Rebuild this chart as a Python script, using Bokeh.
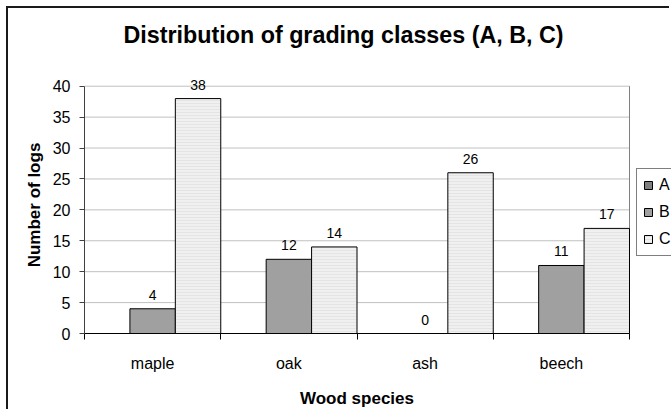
from bokeh.plotting import figure
from bokeh.models import ColumnDataSource, Range1d, FixedTicker, Legend, LegendItem, Title
from bokeh.core.properties import value
from bokeh.embed import file_html
from bokeh.resources import INLINE

# ---- data ----
species = ["maple", "oak", "ash", "beech"]
series_names = ["A", "B", "C"]
grade_a = [None, None, None, None]
grade_b = [4, 12, 0, 11]
grade_c = [38, 14, 26, 17]
y_ticks = [0, 5, 10, 15, 20, 25, 30, 35, 40]

# ---- layout / style ----
FONT = "Liberation Sans"
colors = ["#808080", "#a0a0a0", "#f0f0f0"]
W, H = 663, 403
BORDER_L, BORDER_T, BORDER_B = 76, 68, 78
PLOT_W_PX = 545.0          # pixel width of the category area
PLOT_H_PX = 247.3          # pixel height of the value axis 0..max
HEADROOM_PX = 9.7          # room above the top gridline for value labels
n_cat = len(species)
y_max = y_ticks[-1]
y_top = y_max + HEADROOM_PX * y_max / PLOT_H_PX
x_right = n_cat * (W - BORDER_L) / PLOT_W_PX   # frame runs to the canvas edge (legend is clipped there)

p = figure(width=W, height=H, output_backend="svg", toolbar_location=None, title=None,
           x_range=Range1d(0, x_right), y_range=Range1d(0, y_top),
           min_border_left=BORDER_L, min_border_right=0, min_border_top=BORDER_T,
           min_border_bottom=BORDER_B)
p.styles = {"margin-left": "6px", "margin-top": "6px",
            "border-left": "2px solid #1a1a1a", "border-top": "2px solid #1a1a1a"}

spacer = Title(text=" ", text_font=FONT, text_font_size="10px", standoff=16)
p.add_layout(spacer, "above")
main_title = Title(text="Distribution of grading classes (A, B, C)", text_font=FONT,
                   text_font_size="23.3px", text_font_style="bold", text_color="black",
                   align="left", offset=39, vertical_align="bottom", standoff=0)
p.add_layout(main_title, "above")

p.background_fill_color = "white"
p.border_fill_color = "white"
p.outline_line_color = None
p.xgrid.visible = False
p.ygrid.visible = False

# horizontal gridlines limited to the category area
grid_y = y_ticks[1:]
p.segment(x0=[0] * len(grid_y), y0=grid_y, x1=[n_cat] * len(grid_y), y1=grid_y,
          line_color="#c0c0c0", line_width=1)
# right border of the plot area
p.segment(x0=[n_cat], y0=[0], x1=[n_cat], y1=[y_max], line_color="#808080", line_width=1)

n = len(series_names)
bw = 1.0 / n
all_series = [grade_a, grade_b, grade_c]
renderers = []
for k, (name, vals) in enumerate(zip(series_names, all_series)):
    xs = [i + (k + 0.5) * bw for i in range(n_cat)]
    tops = [float("nan") if v is None else v for v in vals]
    src = ColumnDataSource(dict(x=xs, top=tops))
    kw = {}
    if k == 2:
        kw = dict(hatch_pattern="horizontal_line", hatch_color="#e4e4e4", hatch_scale=3, hatch_weight=1)
    r = p.vbar(x="x", top="top", width=bw, bottom=0, source=src,
               fill_color=colors[k], line_color="black", line_width=1, **kw)
    renderers.append(r)
    lx = [x for x, v in zip(xs, vals) if v is not None]
    ly = [v for v in vals if v is not None]
    if lx:
        lsrc = ColumnDataSource(dict(x=lx, y=ly, t=[str(v) for v in ly]))
        p.text(x="x", y="y", text="t", source=lsrc, text_align="center",
               text_baseline="alphabetic", y_offset=-14, text_font=value(FONT),
               text_font_size="14px", text_color="black")

# y axis
p.yaxis.ticker = y_ticks
p.yaxis.bounds = (0, y_max)
p.yaxis.axis_label = "Number of logs"
p.yaxis.axis_label_text_font = FONT
p.yaxis.axis_label_text_font_size = "17px"
p.yaxis.axis_label_text_font_style = "bold"
p.yaxis.axis_label_text_color = "black"
p.yaxis.axis_label_standoff = 6
p.yaxis.major_label_text_font = FONT
p.yaxis.major_label_text_font_size = "16px"
p.yaxis.major_label_text_color = "black"
p.yaxis.major_label_standoff = 9
p.yaxis.major_tick_in = 0
p.yaxis.major_tick_out = 5
p.yaxis.minor_tick_in = 0
p.yaxis.minor_tick_out = 0
p.yaxis.axis_line_color = "#404040"
p.yaxis.major_tick_line_color = "#404040"

# x axis (ticks at category boundaries, labels at centers)
centers = [i + 0.5 for i in range(n_cat)]
p.xaxis.ticker = FixedTicker(ticks=centers, minor_ticks=list(range(n_cat + 1)))
p.xaxis.bounds = (0, n_cat)
p.xaxis.major_label_overrides = {c: s for c, s in zip(centers, species)}
p.xaxis.axis_label = " "
p.xaxis.axis_label_text_font = FONT
p.xaxis.axis_label_text_font_size = "10px"
p.xaxis.axis_label_standoff = 0
p.xaxis.major_label_text_font = FONT
p.xaxis.major_label_text_font_size = "16px"
p.xaxis.major_label_text_color = "black"
p.xaxis.major_label_standoff = 15
p.xaxis.major_tick_in = 0
p.xaxis.major_tick_out = 0
p.xaxis.minor_tick_in = 0
p.xaxis.minor_tick_out = 6
p.xaxis.minor_tick_line_color = "black"
p.xaxis.axis_line_color = "black"

xlabel = Title(text="Wood species", text_font=FONT, text_font_size="17px",
               text_font_style="bold", text_color="black", align="left",
               offset=PLOT_W_PX / 2 - 57, vertical_align="top", standoff=0)
p.add_layout(xlabel, "below")

legend = Legend(items=[LegendItem(label=nm, renderers=[r]) for nm, r in zip(series_names, renderers)],
                location=(552, 77), orientation="vertical", glyph_width=10, glyph_height=10,
                label_height=20, spacing=7, padding=6, margin=0, label_standoff=6,
                label_text_font=FONT, label_text_font_size="16px", label_text_color="black",
                border_line_color="black", border_line_width=1, background_fill_color="white",
                background_fill_alpha=1.0)
p.add_layout(legend)

open("out.html", "w").write(file_html(p, INLINE))
